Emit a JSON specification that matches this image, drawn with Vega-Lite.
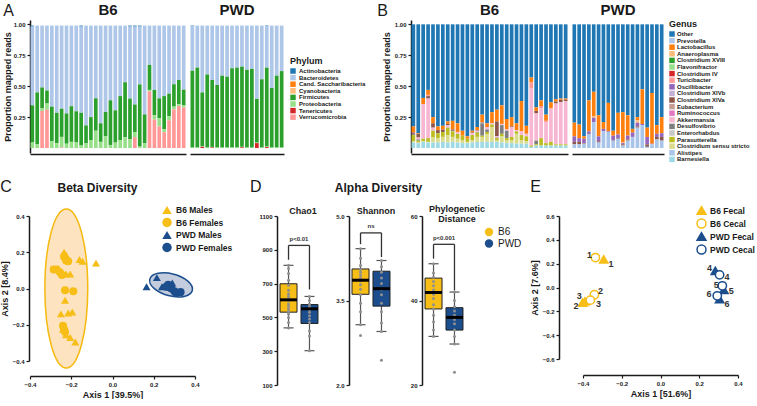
{
"$schema": "https://vega.github.io/schema/vega-lite/v6.json",
"background": "white",
"padding": {"left": 0, "top": 3, "right": 0, "bottom": 0},
"config": {
 "font": "Liberation Sans",
 "view": {"stroke": null},
 "axis": {"labelFontSize": 6, "labelFontWeight": "bold", "labelColor": "#1a1a1a", "labelOverlap": false, "labelFlush": false, "domainColor": "#1a1a1a", "domainWidth": 1.5, "tickColor": "#1a1a1a", "tickSize": 3, "tickWidth": 1.2, "grid": false, "titleFontSize": 9, "titleFontWeight": "bold", "titleColor": "#1a1a1a", "labelPadding": 2, "titlePadding": 3},
 "legend": {"titleColor": "#1a1a1a", "labelColor": "#1a1a1a", "labelFontWeight": "bold", "titleFontWeight": "bold"},
 "title": {"color": "#1a1a1a", "fontWeight": "bold"}
},
"datasets": {
 "phy": [
  {"st":"B6","s":1,"Actinobacteria":0.008,"Bacteroidetes":0.637,"Firmicutes":0.3,"Proteobacteria":0.045},
  {"st":"B6","s":2,"Bacteroidetes":0.54,"Firmicutes":0.42,"Proteobacteria":0.03},
  {"st":"B6","s":3,"Bacteroidetes":0.5,"Firmicutes":0.17,"Proteobacteria":0.02,"Verrucomicrobia":0.3},
  {"st":"B6","s":4,"Bacteroidetes":0.525,"Firmicutes":0.105,"Proteobacteria":0.05,"Verrucomicrobia":0.31},
  {"st":"B6","s":5,"Bacteroidetes":0.655,"Firmicutes":0.28,"Proteobacteria":0.055},
  {"st":"B6","s":6,"Bacteroidetes":0.705,"Firmicutes":0.245,"Proteobacteria":0.04},
  {"st":"B6","s":7,"Bacteroidetes":0.672,"Firmicutes":0.228,"Proteobacteria":0.085,"Verrucomicrobia":0.005},
  {"st":"B6","s":8,"Bacteroidetes":0.71,"Firmicutes":0.245,"Proteobacteria":0.035},
  {"st":"B6","s":9,"Bacteroidetes":0.652,"Firmicutes":0.288,"Proteobacteria":0.05},
  {"st":"B6","s":10,"Bacteroidetes":0.693,"Firmicutes":0.252,"Proteobacteria":0.045},
  {"st":"B6","s":11,"Actinobacteria":0.008,"Bacteroidetes":0.697,"Firmicutes":0.265,"Proteobacteria":0.02},
  {"st":"B6","s":12,"Bacteroidetes":0.807,"Firmicutes":0.145,"Proteobacteria":0.038},
  {"st":"B6","s":13,"Bacteroidetes":0.74,"Firmicutes":0.185,"Proteobacteria":0.065},
  {"st":"B6","s":14,"Bacteroidetes":0.588,"Firmicutes":0.262,"Proteobacteria":0.14},
  {"st":"B6","s":15,"Bacteroidetes":0.79,"Firmicutes":0.15,"Proteobacteria":0.05},
  {"st":"B6","s":16,"Bacteroidetes":0.698,"Firmicutes":0.197,"Proteobacteria":0.095},
  {"st":"B6","s":17,"Bacteroidetes":0.604,"Firmicutes":0.361,"Proteobacteria":0.025},
  {"st":"B6","s":18,"Bacteroidetes":0.685,"Firmicutes":0.261,"Proteobacteria":0.044},
  {"st":"B6","s":19,"Bacteroidetes":0.57,"Firmicutes":0.355,"Proteobacteria":0.065},
  {"st":"B6","s":20,"Bacteroidetes":0.458,"Firmicutes":0.444,"Proteobacteria":0.088},
  {"st":"B6","s":21,"Actinobacteria":0.008,"Bacteroidetes":0.582,"Firmicutes":0.33,"Proteobacteria":0.07},
  {"st":"B6","s":22,"Actinobacteria":0.008,"Bacteroidetes":0.63,"Firmicutes":0.222,"Proteobacteria":0.042,"Verrucomicrobia":0.088},
  {"st":"B6","s":23,"Actinobacteria":0.008,"Bacteroidetes":0.468,"Firmicutes":0.502,"Proteobacteria":0.012},
  {"st":"B6","s":24,"Bacteroidetes":0.718,"Firmicutes":0.234,"Proteobacteria":0.038},
  {"st":"B6","s":25,"Bacteroidetes":0.318,"Firmicutes":0.202,"Proteobacteria":0.012,"Verrucomicrobia":0.458},
  {"st":"B6","s":26,"Bacteroidetes":0.52,"Firmicutes":0.205,"Proteobacteria":0.035,"Verrucomicrobia":0.23},
  {"st":"B6","s":27,"Bacteroidetes":0.588,"Firmicutes":0.162,"Proteobacteria":0.065,"Verrucomicrobia":0.175},
  {"st":"B6","s":28,"Bacteroidetes":0.57,"Firmicutes":0.268,"Proteobacteria":0.024,"Verrucomicrobia":0.128},
  {"st":"B6","s":29,"Bacteroidetes":0.55,"Firmicutes":0.182,"Proteobacteria":0.033,"Verrucomicrobia":0.225},
  {"st":"B6","s":30,"Bacteroidetes":0.474,"Firmicutes":0.181,"Proteobacteria":0.023,"Verrucomicrobia":0.312},
  {"st":"B6","s":31,"Bacteroidetes":0.44,"Firmicutes":0.195,"Proteobacteria":0.015,"Verrucomicrobia":0.34},
  {"st":"B6","s":32,"Bacteroidetes":0.518,"Firmicutes":0.124,"Proteobacteria":0.02,"Verrucomicrobia":0.328},
  {"st":"PWD","s":1,"Actinobacteria":0.006,"Bacteroidetes":0.359,"Firmicutes":0.621,"Proteobacteria":0.004},
  {"st":"PWD","s":2,"Bacteroidetes":0.34,"Firmicutes":0.646,"Proteobacteria":0.004},
  {"st":"PWD","s":3,"Bacteroidetes":0.54,"Firmicutes":0.436,"Proteobacteria":0.004,"Tenericutes":0.01},
  {"st":"PWD","s":4,"Bacteroidetes":0.395,"Firmicutes":0.591,"Proteobacteria":0.004},
  {"st":"PWD","s":5,"Bacteroidetes":0.44,"Firmicutes":0.541,"Proteobacteria":0.004,"Tenericutes":0.005},
  {"st":"PWD","s":6,"Bacteroidetes":0.48,"Firmicutes":0.506,"Proteobacteria":0.004},
  {"st":"PWD","s":7,"Bacteroidetes":0.405,"Firmicutes":0.581,"Proteobacteria":0.004},
  {"st":"PWD","s":8,"Bacteroidetes":0.413,"Firmicutes":0.573,"Proteobacteria":0.004},
  {"st":"PWD","s":9,"Bacteroidetes":0.345,"Firmicutes":0.641,"Proteobacteria":0.004},
  {"st":"PWD","s":10,"Bacteroidetes":0.34,"Firmicutes":0.646,"Proteobacteria":0.004},
  {"st":"PWD","s":11,"Bacteroidetes":0.332,"Firmicutes":0.648,"Proteobacteria":0.004,"Tenericutes":0.006},
  {"st":"PWD","s":12,"Bacteroidetes":0.358,"Firmicutes":0.628,"Proteobacteria":0.004},
  {"st":"PWD","s":13,"Bacteroidetes":0.35,"Firmicutes":0.636,"Proteobacteria":0.004},
  {"st":"PWD","s":14,"Bacteroidetes":0.593,"Firmicutes":0.353,"Proteobacteria":0.004,"Tenericutes":0.04},
  {"st":"PWD","s":15,"Bacteroidetes":0.434,"Firmicutes":0.552,"Proteobacteria":0.004},
  {"st":"PWD","s":16,"Actinobacteria":0.006,"Bacteroidetes":0.334,"Firmicutes":0.638,"Proteobacteria":0.004,"Tenericutes":0.008},
  {"st":"PWD","s":17,"Bacteroidetes":0.504,"Firmicutes":0.482,"Proteobacteria":0.004},
  {"st":"PWD","s":18,"Bacteroidetes":0.405,"Firmicutes":0.581,"Proteobacteria":0.004},
  {"st":"PWD","s":19,"Bacteroidetes":0.368,"Firmicutes":0.618,"Proteobacteria":0.004}
 ],
 "gen": [
  {"st":"B6","s":1,"Other":0.825,"Lactobacillus":0.05,"Oscillibacter":0.005,"Clostridium XlVa":0.01,"Desulfovibrio":0.005,"Parasutterella":0.05,"Clostridium sensu stricto":0.01,"Barnesiella":0.045},
  {"st":"B6","s":2,"Other":0.88,"Lactobacillus":0.005,"Clostridium XlVa":0.03,"Akkermansia":0.015,"Desulfovibrio":0.01,"Parasutterella":0.015,"Clostridium sensu stricto":0.005,"Barnesiella":0.04},
  {"st":"B6","s":3,"Other":0.595,"Lactobacillus":0.05,"Akkermansia":0.28,"Parasutterella":0.02,"Clostridium sensu stricto":0.005,"Barnesiella":0.05},
  {"st":"B6","s":4,"Other":0.53,"Lactobacillus":0.04,"Turicibacter":0.01,"Clostridium XlVa":0.02,"Akkermansia":0.32,"Parasutterella":0.03,"Clostridium sensu stricto":0.005,"Barnesiella":0.045},
  {"st":"B6","s":5,"Other":0.75,"Lactobacillus":0.05,"Clostridium XlVa":0.035,"Akkermansia":0.025,"Parasutterella":0.055,"Clostridium sensu stricto":0.04,"Barnesiella":0.045},
  {"st":"B6","s":6,"Other":0.825,"Lactobacillus":0.03,"Clostridium XlVa":0.025,"Parasutterella":0.04,"Clostridium sensu stricto":0.035,"Barnesiella":0.045},
  {"st":"B6","s":7,"Other":0.82,"Lactobacillus":0.03,"Clostridium XlVa":0.02,"Parasutterella":0.04,"Clostridium sensu stricto":0.04,"Barnesiella":0.05},
  {"st":"B6","s":8,"Other":0.785,"Lactobacillus":0.02,"Clostridium XlVa":0.01,"Akkermansia":0.02,"Parasutterella":0.06,"Clostridium sensu stricto":0.06,"Barnesiella":0.045},
  {"st":"B6","s":9,"Other":0.78,"Lactobacillus":0.07,"Clostridium XlVa":0.01,"Desulfovibrio":0.005,"Parasutterella":0.045,"Clostridium sensu stricto":0.04,"Barnesiella":0.05},
  {"st":"B6","s":10,"Other":0.8,"Lactobacillus":0.07,"Turicibacter":0.005,"Akkermansia":0.01,"Parasutterella":0.04,"Clostridium sensu stricto":0.03,"Barnesiella":0.045},
  {"st":"B6","s":11,"Other":0.86,"Lactobacillus":0.04,"Parasutterella":0.04,"Clostridium sensu stricto":0.02,"Barnesiella":0.04},
  {"st":"B6","s":12,"Other":0.905,"Lactobacillus":0.02,"Parasutterella":0.025,"Clostridium sensu stricto":0.01,"Barnesiella":0.04},
  {"st":"B6","s":13,"Other":0.86,"Lactobacillus":0.015,"Clostridium XlVa":0.005,"Akkermansia":0.015,"Parasutterella":0.04,"Clostridium sensu stricto":0.02,"Barnesiella":0.045},
  {"st":"B6","s":14,"Other":0.83,"Lactobacillus":0.025,"Clostridium XlVa":0.005,"Akkermansia":0.01,"Desulfovibrio":0.005,"Parasutterella":0.035,"Clostridium sensu stricto":0.04,"Barnesiella":0.05},
  {"st":"B6","s":15,"Other":0.73,"Lactobacillus":0.06,"Clostridium XlVa":0.005,"Akkermansia":0.005,"Desulfovibrio":0.1,"Parasutterella":0.01,"Clostridium sensu stricto":0.04,"Barnesiella":0.05},
  {"st":"B6","s":16,"Other":0.8,"Lactobacillus":0.03,"Akkermansia":0.02,"Desulfovibrio":0.02,"Parasutterella":0.02,"Clostridium sensu stricto":0.06,"Barnesiella":0.05},
  {"st":"B6","s":17,"Other":0.71,"Lactobacillus":0.09,"Akkermansia":0.01,"Parasutterella":0.02,"Clostridium sensu stricto":0.12,"Barnesiella":0.05},
  {"st":"B6","s":18,"Other":0.69,"Lactobacillus":0.095,"Clostridium XlVa":0.12,"Akkermansia":0.01,"Desulfovibrio":0.005,"Parasutterella":0.02,"Clostridium sensu stricto":0.01,"Barnesiella":0.05},
  {"st":"B6","s":19,"Other":0.655,"Lactobacillus":0.15,"Akkermansia":0.01,"Desulfovibrio":0.07,"Parasutterella":0.02,"Clostridium sensu stricto":0.05,"Barnesiella":0.045},
  {"st":"B6","s":20,"Other":0.765,"Lactobacillus":0.085,"Akkermansia":0.01,"Desulfovibrio":0.06,"Parasutterella":0.02,"Clostridium sensu stricto":0.02,"Barnesiella":0.04},
  {"st":"B6","s":21,"Other":0.75,"Lactobacillus":0.075,"Clostridium XlVa":0.005,"Akkermansia":0.08,"Parasutterella":0.03,"Clostridium sensu stricto":0.02,"Barnesiella":0.04},
  {"st":"B6","s":22,"Other":0.8,"Lactobacillus":0.055,"Akkermansia":0.01,"Parasutterella":0.02,"Clostridium sensu stricto":0.08,"Barnesiella":0.035},
  {"st":"B6","s":23,"Other":0.62,"Lactobacillus":0.245,"Akkermansia":0.03,"Parasutterella":0.04,"Clostridium sensu stricto":0.03,"Barnesiella":0.035},
  {"st":"B6","s":24,"Other":0.82,"Lactobacillus":0.065,"Akkermansia":0.02,"Parasutterella":0.04,"Clostridium sensu stricto":0.02,"Barnesiella":0.035},
  {"st":"B6","s":25,"Other":0.43,"Lactobacillus":0.04,"Turicibacter":0.05,"Akkermansia":0.46,"Parasutterella":0.01,"Barnesiella":0.01},
  {"st":"B6","s":26,"Other":0.67,"Lactobacillus":0.03,"Clostridium XlVa":0.02,"Akkermansia":0.22,"Desulfovibrio":0.03,"Parasutterella":0.01,"Barnesiella":0.02},
  {"st":"B6","s":27,"Other":0.615,"Lactobacillus":0.045,"Turicibacter":0.02,"Akkermansia":0.24,"Parasutterella":0.06,"Barnesiella":0.02},
  {"st":"B6","s":28,"Other":0.73,"Lactobacillus":0.05,"Turicibacter":0.01,"Akkermansia":0.17,"Parasutterella":0.02,"Barnesiella":0.02},
  {"st":"B6","s":29,"Other":0.63,"Lactobacillus":0.05,"Akkermansia":0.27,"Parasutterella":0.03,"Barnesiella":0.02},
  {"st":"B6","s":30,"Other":0.605,"Lactobacillus":0.02,"Clostridium XlVa":0.015,"Akkermansia":0.33,"Parasutterella":0.01,"Barnesiella":0.02},
  {"st":"B6","s":31,"Other":0.6,"Lactobacillus":0.01,"Clostridium XlVa":0.02,"Akkermansia":0.34,"Parasutterella":0.01,"Barnesiella":0.02},
  {"st":"B6","s":32,"Other":0.6,"Lactobacillus":0.01,"Clostridium XlVa":0.01,"Akkermansia":0.35,"Parasutterella":0.01,"Barnesiella":0.02},
  {"st":"PWD","s":1,"Other":0.795,"Lactobacillus":0.11,"Oscillibacter":0.045,"Clostridium XlVa":0.02,"Alistipes":0.03},
  {"st":"PWD","s":2,"Other":0.81,"Lactobacillus":0.11,"Oscillibacter":0.03,"Clostridium XlVa":0.02,"Alistipes":0.03},
  {"st":"PWD","s":3,"Other":0.905,"Lactobacillus":0.02,"Oscillibacter":0.035,"Clostridium XlVa":0.005,"Alistipes":0.035},
  {"st":"PWD","s":4,"Other":0.615,"Lactobacillus":0.25,"Oscillibacter":0.02,"Clostridium XlVa":0.005,"Alistipes":0.11},
  {"st":"PWD","s":5,"Other":0.545,"Lactobacillus":0.2,"Anaeroplasma":0.01,"Oscillibacter":0.035,"Alistipes":0.21},
  {"st":"PWD","s":6,"Other":0.735,"Lactobacillus":0.17,"Oscillibacter":0.04,"Clostridium XlVa":0.01,"Alistipes":0.045},
  {"st":"PWD","s":7,"Other":0.79,"Lactobacillus":0.055,"Oscillibacter":0.02,"Alistipes":0.135},
  {"st":"PWD","s":8,"Other":0.635,"Lactobacillus":0.23,"Oscillibacter":0.005,"Alistipes":0.13},
  {"st":"PWD","s":9,"Other":0.86,"Lactobacillus":0.04,"Oscillibacter":0.035,"Clostridium XlVa":0.005,"Alistipes":0.06},
  {"st":"PWD","s":10,"Other":0.715,"Lactobacillus":0.175,"Oscillibacter":0.03,"Clostridium XlVa":0.005,"Alistipes":0.075},
  {"st":"PWD","s":11,"Other":0.71,"Lactobacillus":0.245,"Anaeroplasma":0.005,"Oscillibacter":0.01,"Clostridium XlVa":0.01,"Alistipes":0.02},
  {"st":"PWD","s":12,"Other":0.735,"Lactobacillus":0.165,"Oscillibacter":0.03,"Clostridium XlVa":0.01,"Alistipes":0.06},
  {"st":"PWD","s":13,"Other":0.845,"Lactobacillus":0.03,"Oscillibacter":0.035,"Alistipes":0.09},
  {"st":"PWD","s":14,"Other":0.75,"Lactobacillus":0.025,"Anaeroplasma":0.02,"Oscillibacter":0.03,"Clostridium XlVa":0.01,"Alistipes":0.165},
  {"st":"PWD","s":15,"Other":0.525,"Lactobacillus":0.28,"Oscillibacter":0.01,"Alistipes":0.185},
  {"st":"PWD","s":16,"Other":0.835,"Lactobacillus":0.075,"Oscillibacter":0.06,"Clostridium XlVa":0.02,"Alistipes":0.01},
  {"st":"PWD","s":17,"Other":0.555,"Lactobacillus":0.41,"Oscillibacter":0.005,"Alistipes":0.03},
  {"st":"PWD","s":18,"Other":0.815,"Lactobacillus":0.07,"Oscillibacter":0.025,"Clostridium XlVa":0.02,"Alistipes":0.07},
  {"st":"PWD","s":19,"Other":0.75,"Lactobacillus":0.13,"Oscillibacter":0.03,"Clostridium XlVa":0.03,"Alistipes":0.06}
 ],
 "grank": [
  {"Genus":"Other","gi":0},{"Genus":"Prevotella","gi":1},{"Genus":"Lactobacillus","gi":2},{"Genus":"Anaeroplasma","gi":3},{"Genus":"Clostridium XVIII","gi":4},{"Genus":"Flavonifractor","gi":5},{"Genus":"Clostridium IV","gi":6},{"Genus":"Turicibacter","gi":7},{"Genus":"Oscillibacter","gi":8},{"Genus":"Clostridium XlVb","gi":9},{"Genus":"Clostridium XlVa","gi":10},{"Genus":"Eubacterium","gi":11},{"Genus":"Ruminococcus","gi":12},{"Genus":"Akkermansia","gi":13},{"Genus":"Desulfovibrio","gi":14},{"Genus":"Enterorhabdus","gi":15},{"Genus":"Parasutterella","gi":16},{"Genus":"Clostridium sensu stricto","gi":17},{"Genus":"Alistipes","gi":18},{"Genus":"Barnesiella","gi":19}
 ],
 "ell": [{"g":"B6","a1":-0.224,"a2":0.0},{"g":"PWD","a1":0.284,"a2":0.02}],
 "beta": [
  {"grp":"B6 Males","a1":-0.235,"a2":0.2},{"grp":"B6 Males","a1":-0.225,"a2":0.185},{"grp":"B6 Males","a1":-0.16,"a2":0.16},{"grp":"B6 Males","a1":-0.145,"a2":0.15},{"grp":"B6 Males","a1":-0.08,"a2":0.14},{"grp":"B6 Males","a1":-0.225,"a2":0.08},{"grp":"B6 Males","a1":-0.205,"a2":0.08},{"grp":"B6 Males","a1":-0.23,"a2":-0.065},{"grp":"B6 Males","a1":-0.25,"a2":-0.14},{"grp":"B6 Males","a1":-0.215,"a2":-0.135},{"grp":"B6 Males","a1":-0.195,"a2":-0.13},{"grp":"B6 Males","a1":-0.24,"a2":-0.225},{"grp":"B6 Males","a1":-0.225,"a2":-0.255},{"grp":"B6 Males","a1":-0.205,"a2":-0.27},{"grp":"B6 Males","a1":-0.18,"a2":-0.295},
  {"grp":"B6 Females","a1":-0.235,"a2":0.175},{"grp":"B6 Females","a1":-0.225,"a2":0.155},{"grp":"B6 Females","a1":-0.215,"a2":0.15},{"grp":"B6 Females","a1":-0.285,"a2":0.105},{"grp":"B6 Females","a1":-0.27,"a2":0.105},{"grp":"B6 Females","a1":-0.255,"a2":0.09},{"grp":"B6 Females","a1":-0.245,"a2":0.075},{"grp":"B6 Females","a1":-0.23,"a2":-0.01},{"grp":"B6 Females","a1":-0.19,"a2":-0.015},{"grp":"B6 Females","a1":-0.24,"a2":-0.205},{"grp":"B6 Females","a1":-0.235,"a2":-0.225},{"grp":"B6 Females","a1":-0.23,"a2":-0.24},
  {"grp":"PWD Males","a1":0.165,"a2":0.01},{"grp":"PWD Males","a1":0.215,"a2":0.06},{"grp":"PWD Males","a1":0.24,"a2":0.01},{"grp":"PWD Males","a1":0.28,"a2":0.005},{"grp":"PWD Males","a1":0.31,"a2":-0.02},{"grp":"PWD Males","a1":0.29,"a2":0.03},
  {"grp":"PWD Females","a1":0.27,"a2":0.02},{"grp":"PWD Females","a1":0.285,"a2":0.0},{"grp":"PWD Females","a1":0.3,"a2":-0.015},{"grp":"PWD Females","a1":0.31,"a2":-0.025},{"grp":"PWD Females","a1":0.26,"a2":0.01},{"grp":"PWD Females","a1":0.33,"a2":-0.02}
 ],
 "box": [
  {"m":"Chao1","st":"B6","lo":438,"q1":531,"med":604,"q3":699,"hi":808},
  {"m":"Chao1","st":"PWD","lo":303,"q1":464,"med":551,"q3":576,"hi":624},
  {"m":"Shannon","st":"B6","lo":3.07,"q1":3.61,"med":3.86,"q3":4.06,"hi":4.42},
  {"m":"Shannon","st":"PWD","lo":2.95,"q1":3.4,"med":3.71,"q3":4.02,"hi":4.21},
  {"m":"PD","st":"B6","lo":31.5,"q1":38.0,"med":41.9,"q3":45.3,"hi":48.7},
  {"m":"PD","st":"PWD","lo":29.7,"q1":33.0,"med":36.0,"q3":38.3,"hi":42.0}
 ],
 "pts": [
  {"m":"Chao1","st":"B6","v":438},{"m":"Chao1","st":"B6","v":470},{"m":"Chao1","st":"B6","v":500},{"m":"Chao1","st":"B6","v":520},{"m":"Chao1","st":"B6","v":535},{"m":"Chao1","st":"B6","v":550},{"m":"Chao1","st":"B6","v":565},{"m":"Chao1","st":"B6","v":580},{"m":"Chao1","st":"B6","v":600},{"m":"Chao1","st":"B6","v":612},{"m":"Chao1","st":"B6","v":625},{"m":"Chao1","st":"B6","v":640},{"m":"Chao1","st":"B6","v":660},{"m":"Chao1","st":"B6","v":690},{"m":"Chao1","st":"B6","v":720},{"m":"Chao1","st":"B6","v":760},{"m":"Chao1","st":"B6","v":790},{"m":"Chao1","st":"B6","v":808},
  {"m":"Chao1","st":"PWD","v":303},{"m":"Chao1","st":"PWD","v":390},{"m":"Chao1","st":"PWD","v":420},{"m":"Chao1","st":"PWD","v":470},{"m":"Chao1","st":"PWD","v":490},{"m":"Chao1","st":"PWD","v":510},{"m":"Chao1","st":"PWD","v":530},{"m":"Chao1","st":"PWD","v":545},{"m":"Chao1","st":"PWD","v":555},{"m":"Chao1","st":"PWD","v":565},{"m":"Chao1","st":"PWD","v":580},{"m":"Chao1","st":"PWD","v":600},{"m":"Chao1","st":"PWD","v":624},
  {"m":"Shannon","st":"B6","v":2.88},{"m":"Shannon","st":"B6","v":3.07},{"m":"Shannon","st":"B6","v":3.3},{"m":"Shannon","st":"B6","v":3.45},{"m":"Shannon","st":"B6","v":3.6},{"m":"Shannon","st":"B6","v":3.7},{"m":"Shannon","st":"B6","v":3.78},{"m":"Shannon","st":"B6","v":3.85},{"m":"Shannon","st":"B6","v":3.9},{"m":"Shannon","st":"B6","v":3.95},{"m":"Shannon","st":"B6","v":4.0},{"m":"Shannon","st":"B6","v":4.05},{"m":"Shannon","st":"B6","v":4.12},{"m":"Shannon","st":"B6","v":4.25},{"m":"Shannon","st":"B6","v":4.42},
  {"m":"Shannon","st":"PWD","v":2.44},{"m":"Shannon","st":"PWD","v":2.95},{"m":"Shannon","st":"PWD","v":3.1},{"m":"Shannon","st":"PWD","v":3.3},{"m":"Shannon","st":"PWD","v":3.45},{"m":"Shannon","st":"PWD","v":3.6},{"m":"Shannon","st":"PWD","v":3.7},{"m":"Shannon","st":"PWD","v":3.8},{"m":"Shannon","st":"PWD","v":3.9},{"m":"Shannon","st":"PWD","v":4.0},{"m":"Shannon","st":"PWD","v":4.1},{"m":"Shannon","st":"PWD","v":4.21},
  {"m":"PD","st":"B6","v":31.5},{"m":"PD","st":"B6","v":33},{"m":"PD","st":"B6","v":35},{"m":"PD","st":"B6","v":36.5},{"m":"PD","st":"B6","v":38},{"m":"PD","st":"B6","v":39},{"m":"PD","st":"B6","v":40.5},{"m":"PD","st":"B6","v":41.5},{"m":"PD","st":"B6","v":42.5},{"m":"PD","st":"B6","v":43.5},{"m":"PD","st":"B6","v":44.5},{"m":"PD","st":"B6","v":45.5},{"m":"PD","st":"B6","v":46.5},{"m":"PD","st":"B6","v":48.7},
  {"m":"PD","st":"PWD","v":23.0},{"m":"PD","st":"PWD","v":29.7},{"m":"PD","st":"PWD","v":31.5},{"m":"PD","st":"PWD","v":33.0},{"m":"PD","st":"PWD","v":34.5},{"m":"PD","st":"PWD","v":35.5},{"m":"PD","st":"PWD","v":36.5},{"m":"PD","st":"PWD","v":37.5},{"m":"PD","st":"PWD","v":38.5},{"m":"PD","st":"PWD","v":40},{"m":"PD","st":"PWD","v":42.0}
 ],
 "brk": [
  {"m":"Chao1","top":926,"yl":841,"yr":665,"ty":962,"lab":"p<0.01"},
  {"m":"Shannon","top":4.7,"yl":4.5,"yr":4.27,"ty":4.82,"lab":"ns"},
  {"m":"PD","top":53.3,"yl":49.9,"yr":42.4,"ty":54.9,"lab":"p<0.001"}
 ],
 "pc": [
  {"grp":"B6 Fecal","a1":-0.293,"a2":0.237},{"grp":"B6 Fecal","a1":-0.402,"a2":-0.126},{"grp":"B6 Fecal","a1":-0.39,"a2":-0.117},
  {"grp":"B6 Cecal","a1":-0.336,"a2":0.251},{"grp":"B6 Cecal","a1":-0.341,"a2":-0.061},{"grp":"B6 Cecal","a1":-0.362,"a2":-0.106},
  {"grp":"PWD Fecal","a1":0.283,"a2":0.14},{"grp":"PWD Fecal","a1":0.327,"a2":-0.02},{"grp":"PWD Fecal","a1":0.305,"a2":-0.098},
  {"grp":"PWD Cecal","a1":0.305,"a2":0.106},{"grp":"PWD Cecal","a1":0.319,"a2":0.014},{"grp":"PWD Cecal","a1":0.293,"a2":-0.07}
 ],
 "lab": [
  {"n":"1","a1":-0.367,"a2":0.27},{"n":"1","a1":-0.255,"a2":0.2},{"n":"2","a1":-0.31,"a2":-0.028},{"n":"3","a1":-0.32,"a2":-0.14},{"n":"3","a1":-0.419,"a2":-0.07},{"n":"2","a1":-0.436,"a2":-0.153},
  {"n":"4","a1":0.253,"a2":0.167},{"n":"4","a1":0.343,"a2":0.09},{"n":"5","a1":0.288,"a2":0.023},{"n":"5","a1":0.365,"a2":-0.028},{"n":"6","a1":0.25,"a2":-0.056},{"n":"6","a1":0.343,"a2":-0.14}
 ]
},
"spacing": 16,
"resolve": {"scale": {"color": "independent", "shape": "independent", "fill": "independent", "stroke": "independent"}},
"vconcat": [
 {
  "spacing": 11,
  "resolve": {"scale": {"color": "independent"}},
  "hconcat": [
   {
    "title": {"text": "A", "anchor": "start", "frame": "bounds", "fontSize": 16, "fontWeight": "normal", "offset": -16},
    "spacing": 4,
    "resolve": {"scale": {"color": "independent"}},
    "hconcat": [
     {
      "title": {"text": "B6", "fontSize": 15, "offset": 2},
      "width": 156, "height": 133,
      "data": {"name": "phy"},
      "transform": [{"filter": "datum.st === 'B6'"}, {"fold": ["Actinobacteria","Bacteroidetes","Firmicutes","Proteobacteria","Tenericutes","Verrucomicrobia"], "as": ["Phylum", "p"]}, {"filter": "isValid(datum.p)"}],
      "mark": {"type": "bar"},
      "encoding": {
       "x": {"field": "s", "type": "ordinal", "scale": {"paddingInner": 0.25, "paddingOuter": 0.1}, "axis": {"labels": false, "ticks": false, "title": null, "offset": 1}},
       "y": {"field": "p", "type": "quantitative", "scale": {"domain": [-0.04, 1.035], "nice": false, "zero": false}, "axis": {"values": [0.25, 0.5, 0.75, 1], "tickCount": 10, "format": ".2f", "title": "Proportion mapped reads", "titlePadding": 1}},
       "color": {"field": "Phylum", "type": "nominal", "scale": {"domain": ["Actinobacteria","Bacteroidetes","Cand. Saccharibacteria","Cyanobacteria","Firmicutes","Proteobacteria","Tenericutes","Verrucomicrobia"], "range": ["#1f77b4","#aec7e8","#ff7f0e","#ffbb78","#2ca02c","#98df8a","#d62728","#ff9896"]}, "legend": null}
      }
     },
     {
      "title": {"text": "PWD", "fontSize": 15, "offset": 2},
      "width": 94, "height": 133,
      "data": {"name": "phy"},
      "transform": [{"filter": "datum.st === 'PWD'"}, {"fold": ["Actinobacteria","Bacteroidetes","Firmicutes","Proteobacteria","Tenericutes","Verrucomicrobia"], "as": ["Phylum", "p"]}, {"filter": "isValid(datum.p)"}],
      "mark": {"type": "bar"},
      "encoding": {
       "x": {"field": "s", "type": "ordinal", "scale": {"paddingInner": 0.25, "paddingOuter": 0.1}, "axis": {"labels": false, "ticks": false, "title": null, "offset": 1}},
       "y": {"field": "p", "type": "quantitative", "scale": {"domain": [-0.04, 1.035], "nice": false, "zero": false}, "axis": null},
       "color": {"field": "Phylum", "type": "nominal", "scale": {"domain": ["Actinobacteria","Bacteroidetes","Cand. Saccharibacteria","Cyanobacteria","Firmicutes","Proteobacteria","Tenericutes","Verrucomicrobia"], "range": ["#1f77b4","#aec7e8","#ff7f0e","#ffbb78","#2ca02c","#98df8a","#d62728","#ff9896"]},
        "legend": {"orient": "none", "legendX": 100, "legendY": 37, "title": "Phylum", "titleFontSize": 9, "titleAnchor": "start", "titlePadding": 2, "symbolType": "square", "symbolSize": 30, "symbolStrokeWidth": 0, "labelFontSize": 6, "rowPadding": 0.6, "labelOffset": 3}}
      }
     }
    ]
   },
   {
    "title": {"text": "B", "anchor": "start", "frame": "bounds", "fontSize": 16, "fontWeight": "normal", "offset": -16, "dx": -5},
    "spacing": 4,
    "resolve": {"scale": {"color": "independent"}},
    "hconcat": [
     {
      "title": {"text": "B6", "fontSize": 15, "offset": 2},
      "width": 157, "height": 133,
      "data": {"name": "gen"},
      "transform": [{"filter": "datum.st === 'B6'"}, {"fold": ["Other","Lactobacillus","Anaeroplasma","Turicibacter","Oscillibacter","Clostridium XlVa","Akkermansia","Desulfovibrio","Parasutterella","Clostridium sensu stricto","Alistipes","Barnesiella"], "as": ["Genus", "p"]}, {"filter": "isValid(datum.p)"}, {"lookup": "Genus", "from": {"data": {"name": "grank"}, "key": "Genus", "fields": ["gi"]}}],
      "mark": {"type": "bar"},
      "encoding": {
       "x": {"field": "s", "type": "ordinal", "scale": {"paddingInner": 0.25, "paddingOuter": 0.1}, "axis": {"labels": false, "ticks": false, "title": null, "offset": 1}},
       "y": {"field": "p", "type": "quantitative", "scale": {"domain": [-0.04, 1.035], "nice": false, "zero": false}, "axis": {"values": [0.25, 0.5, 0.75, 1], "tickCount": 10, "format": ".2f", "title": "Proportion mapped reads", "titlePadding": 3}},
       "order": {"field": "gi", "type": "quantitative", "sort": "descending"},
       "color": {"field": "Genus", "type": "nominal", "scale": {"domain": ["Other","Prevotella","Lactobacillus","Anaeroplasma","Clostridium XVIII","Flavonifractor","Clostridium IV","Turicibacter","Oscillibacter","Clostridium XlVb","Clostridium XlVa","Eubacterium","Ruminococcus","Akkermansia","Desulfovibrio","Enterorhabdus","Parasutterella","Clostridium sensu stricto","Alistipes","Barnesiella"], "range": ["#1f77b4","#aec7e8","#ff7f0e","#ffbb78","#2ca02c","#98df8a","#d62728","#ff9896","#9467bd","#c5b0d5","#8c564b","#c49c94","#e377c2","#f7b6d2","#7f7f7f","#c7c7c7","#bcbd22","#dbdb8d","#a9c5ea","#9edae5"]}, "legend": null}
      }
     },
     {
      "title": {"text": "PWD", "fontSize": 15, "offset": 2},
      "width": 92, "height": 133,
      "data": {"name": "gen"},
      "transform": [{"filter": "datum.st === 'PWD'"}, {"fold": ["Other","Lactobacillus","Anaeroplasma","Turicibacter","Oscillibacter","Clostridium XlVa","Akkermansia","Desulfovibrio","Parasutterella","Clostridium sensu stricto","Alistipes","Barnesiella"], "as": ["Genus", "p"]}, {"filter": "isValid(datum.p)"}, {"lookup": "Genus", "from": {"data": {"name": "grank"}, "key": "Genus", "fields": ["gi"]}}],
      "mark": {"type": "bar"},
      "encoding": {
       "x": {"field": "s", "type": "ordinal", "scale": {"paddingInner": 0.25, "paddingOuter": 0.1}, "axis": {"labels": false, "ticks": false, "title": null, "offset": 1}},
       "y": {"field": "p", "type": "quantitative", "scale": {"domain": [-0.04, 1.035], "nice": false, "zero": false}, "axis": null},
       "order": {"field": "gi", "type": "quantitative", "sort": "descending"},
       "color": {"field": "Genus", "type": "nominal", "scale": {"domain": ["Other","Prevotella","Lactobacillus","Anaeroplasma","Clostridium XVIII","Flavonifractor","Clostridium IV","Turicibacter","Oscillibacter","Clostridium XlVb","Clostridium XlVa","Eubacterium","Ruminococcus","Akkermansia","Desulfovibrio","Enterorhabdus","Parasutterella","Clostridium sensu stricto","Alistipes","Barnesiella"], "range": ["#1f77b4","#aec7e8","#ff7f0e","#ffbb78","#2ca02c","#98df8a","#d62728","#ff9896","#9467bd","#c5b0d5","#8c564b","#c49c94","#e377c2","#f7b6d2","#7f7f7f","#c7c7c7","#bcbd22","#dbdb8d","#a9c5ea","#9edae5"]},
        "legend": {"orient": "none", "legendX": 97, "legendY": 0, "title": "Genus", "titleFontSize": 9, "titleAnchor": "start", "titlePadding": 2, "symbolType": "square", "symbolSize": 30, "symbolStrokeWidth": 0, "labelFontSize": 6, "rowPadding": 0.6, "labelOffset": 2}}
      }
     }
    ]
   }
  ]
 },
 {
  "spacing": 16,
  "resolve": {"scale": {"color": "independent", "shape": "independent", "fill": "independent", "stroke": "independent"}},
  "hconcat": [
   {
    "title": {"text": "C", "anchor": "start", "frame": "bounds", "fontSize": 16, "fontWeight": "normal", "offset": -13},
    "hconcat": [
     {
      "title": {"text": "Beta Diversity", "fontSize": 12, "offset": 11, "dx": -15},
      "width": 165, "height": 145,
      "layer": [
       {"data": {"name": "ell"}, "transform": [{"filter": "datum.g === 'B6'"}],
        "mark": {"type": "point", "shape": "M0,-1A0.27,1,0,1,1,0,1A0.27,1,0,1,1,0,-1Z", "size": 25281, "filled": true, "fill": "#fde3c0", "stroke": "#f6b90f", "strokeWidth": 1.5, "opacity": 1},
        "encoding": {
         "x": {"field": "a1", "type": "quantitative", "scale": {"domain": [-0.4, 0.4], "nice": false}, "axis": {"values": [-0.4, -0.2, 0, 0.2, 0.4], "tickCount": 10, "format": ".1f", "title": "Axis 1 [39.5%]", "offset": 15}},
         "y": {"field": "a2", "type": "quantitative", "scale": {"domain": [-0.4, 0.4], "nice": false}, "axis": {"values": [-0.4, -0.2, 0, 0.2, 0.4], "tickCount": 10, "format": ".1f", "title": "Axis 2 [8.4%]", "offset": 1}}
        }},
       {"data": {"name": "ell"}, "transform": [{"filter": "datum.g === 'PWD'"}],
        "mark": {"type": "point", "shape": "M-1,0A1,0.5,0,1,1,1,0A1,0.5,0,1,1,-1,0Z", "size": 1936, "angle": 15, "filled": true, "fill": "#c4cddd", "stroke": "#1c4e8d", "strokeWidth": 1.5, "opacity": 1},
        "encoding": {"x": {"field": "a1", "type": "quantitative"}, "y": {"field": "a2", "type": "quantitative"}}},
       {"data": {"name": "beta"},
        "mark": {"type": "point", "filled": true, "size": 65, "opacity": 1},
        "encoding": {
         "x": {"field": "a1", "type": "quantitative"},
         "y": {"field": "a2", "type": "quantitative"},
         "shape": {"field": "grp", "type": "nominal", "scale": {"domain": ["B6 Males","B6 Females","PWD Males","PWD Females"], "range": ["triangle-up","circle","triangle-up","circle"]},
          "legend": {"orient": "none", "legendX": 132, "legendY": -11, "title": null, "symbolSize": 90, "labelFontSize": 8.5, "rowPadding": 2.5, "labelOffset": 4, "symbolStrokeWidth": 0}},
         "color": {"field": "grp", "type": "nominal", "scale": {"domain": ["B6 Males","B6 Females","PWD Males","PWD Females"], "range": ["#f6be17","#f6be17","#1c4e8d","#1c4e8d"]},
          "legend": {"orient": "none", "legendX": 132, "legendY": -11, "title": null, "symbolSize": 90, "labelFontSize": 8.5, "rowPadding": 2.5, "labelOffset": 4, "symbolStrokeWidth": 0}}
        }}
      ]
     }
    ]
   },
   {
    "spacing": 8,
    "resolve": {"scale": {"color": "independent", "shape": "independent", "fill": "independent", "stroke": "independent"}},
    "hconcat": [
     {
      "title": {"text": "D", "anchor": "start", "frame": "bounds", "fontSize": 16, "fontWeight": "normal", "offset": -13, "dx": -9},
      "hconcat": [
       {
        "title": {"text": "Alpha Diversity", "anchor": "middle", "fontSize": 12, "offset": 10, "dx": -12},
        "spacing": 14,
        "resolve": {"scale": {"color": "independent"}},
        "hconcat": [
         {
          "title": {"text": "Chao1", "fontSize": 9, "offset": -3, "frame": "group", "dx": 4},
          "width": 44, "height": 169,
          "layer": [
           {"data": {"name": "box"}, "transform": [{"filter": "datum.m === 'Chao1'"}], "mark": {"type": "rule", "color": "#555", "strokeWidth": 1.2},
            "encoding": {"x": {"field": "st", "type": "nominal", "scale": {"type": "point", "domain": ["B6","PWD"], "padding": 0.55}, "axis": null},
             "y": {"field": "lo", "type": "quantitative", "title": null, "scale": {"domain": [100, 1100], "nice": false, "zero": false}, "axis": {"values": [100, 300, 500, 700, 900, 1100], "tickCount": 10, "format": "d", "title": null}}, "y2": {"field": "hi"}}},
           {"data": {"name": "box"}, "transform": [{"filter": "datum.m === 'Chao1'"}], "mark": {"type": "tick", "color": "#555", "thickness": 1.2, "size": 10, "opacity": 1},
            "encoding": {"x": {"field": "st", "type": "nominal", "axis": null}, "y": {"field": "hi", "type": "quantitative", "title": null}}},
           {"data": {"name": "box"}, "transform": [{"filter": "datum.m === 'Chao1'"}], "mark": {"type": "tick", "color": "#555", "thickness": 1.2, "size": 10, "opacity": 1},
            "encoding": {"x": {"field": "st", "type": "nominal", "axis": null}, "y": {"field": "lo", "type": "quantitative", "title": null}}},
           {"data": {"name": "box"}, "transform": [{"filter": "datum.m === 'Chao1'"}], "mark": {"type": "bar", "size": 17, "stroke": "#222", "strokeWidth": 1, "opacity": 1},
            "encoding": {"x": {"field": "st", "type": "nominal", "axis": null}, "y": {"field": "q1", "type": "quantitative", "title": null}, "y2": {"field": "q3"},
             "color": {"field": "st", "type": "nominal", "scale": {"domain": ["B6","PWD"], "range": ["#f6be17","#1c4e8d"]}, "legend": null}}},
           {"data": {"name": "pts"}, "transform": [{"filter": "datum.m === 'Chao1'"}], "mark": {"type": "circle", "size": 9, "color": "#8f8f8f", "opacity": 1},
            "encoding": {"x": {"field": "st", "type": "nominal", "axis": null}, "y": {"field": "v", "type": "quantitative", "title": null}}},
           {"data": {"name": "box"}, "transform": [{"filter": "datum.m === 'Chao1'"}], "mark": {"type": "tick", "color": "#000", "thickness": 3, "size": 17, "opacity": 1},
            "encoding": {"x": {"field": "st", "type": "nominal", "axis": null}, "y": {"field": "med", "type": "quantitative", "title": null}}},
           {"data": {"name": "brk"}, "transform": [{"filter": "datum.m === 'Chao1'"}], "mark": {"type": "rule", "color": "#333", "strokeWidth": 1.3},
            "encoding": {"x": {"datum": "B6", "type": "nominal", "axis": null}, "x2": {"datum": "PWD"}, "y": {"field": "top", "type": "quantitative", "title": null}}},
           {"data": {"name": "brk"}, "transform": [{"filter": "datum.m === 'Chao1'"}], "mark": {"type": "rule", "color": "#333", "strokeWidth": 1.3},
            "encoding": {"x": {"datum": "B6", "type": "nominal", "axis": null}, "y": {"field": "top", "type": "quantitative", "title": null}, "y2": {"field": "yl"}}},
           {"data": {"name": "brk"}, "transform": [{"filter": "datum.m === 'Chao1'"}], "mark": {"type": "rule", "color": "#333", "strokeWidth": 1.3},
            "encoding": {"x": {"datum": "PWD", "type": "nominal", "axis": null}, "y": {"field": "top", "type": "quantitative", "title": null}, "y2": {"field": "yr"}}},
           {"data": {"name": "brk"}, "transform": [{"filter": "datum.m === 'Chao1'"}], "mark": {"type": "text", "dx": 10.5, "fontSize": 6, "fontWeight": "bold", "color": "#333", "baseline": "middle"},
            "encoding": {"x": {"datum": "B6", "type": "nominal", "axis": null}, "y": {"field": "ty", "type": "quantitative", "title": null}, "text": {"field": "lab"}}}
          ]
         },
         {
          "title": {"text": "Shannon", "fontSize": 9, "offset": -3, "frame": "group", "dx": 5},
          "width": 44, "height": 169,
          "layer": [
           {"data": {"name": "box"}, "transform": [{"filter": "datum.m === 'Shannon'"}], "mark": {"type": "rule", "color": "#555", "strokeWidth": 1.2},
            "encoding": {"x": {"field": "st", "type": "nominal", "scale": {"type": "point", "domain": ["B6","PWD"], "padding": 0.55}, "axis": null},
             "y": {"field": "lo", "type": "quantitative", "title": null, "scale": {"domain": [2, 5], "nice": false, "zero": false}, "axis": {"values": [2, 3.5, 5], "tickCount": 10, "format": ".1f", "title": null}}, "y2": {"field": "hi"}}},
           {"data": {"name": "box"}, "transform": [{"filter": "datum.m === 'Shannon'"}], "mark": {"type": "tick", "color": "#555", "thickness": 1.2, "size": 10, "opacity": 1},
            "encoding": {"x": {"field": "st", "type": "nominal", "axis": null}, "y": {"field": "hi", "type": "quantitative", "title": null}}},
           {"data": {"name": "box"}, "transform": [{"filter": "datum.m === 'Shannon'"}], "mark": {"type": "tick", "color": "#555", "thickness": 1.2, "size": 10, "opacity": 1},
            "encoding": {"x": {"field": "st", "type": "nominal", "axis": null}, "y": {"field": "lo", "type": "quantitative", "title": null}}},
           {"data": {"name": "box"}, "transform": [{"filter": "datum.m === 'Shannon'"}], "mark": {"type": "bar", "size": 17, "stroke": "#222", "strokeWidth": 1, "opacity": 1},
            "encoding": {"x": {"field": "st", "type": "nominal", "axis": null}, "y": {"field": "q1", "type": "quantitative", "title": null}, "y2": {"field": "q3"},
             "color": {"field": "st", "type": "nominal", "scale": {"domain": ["B6","PWD"], "range": ["#f6be17","#1c4e8d"]}, "legend": null}}},
           {"data": {"name": "pts"}, "transform": [{"filter": "datum.m === 'Shannon'"}], "mark": {"type": "circle", "size": 9, "color": "#8f8f8f", "opacity": 1},
            "encoding": {"x": {"field": "st", "type": "nominal", "axis": null}, "y": {"field": "v", "type": "quantitative", "title": null}}},
           {"data": {"name": "box"}, "transform": [{"filter": "datum.m === 'Shannon'"}], "mark": {"type": "tick", "color": "#000", "thickness": 3, "size": 17, "opacity": 1},
            "encoding": {"x": {"field": "st", "type": "nominal", "axis": null}, "y": {"field": "med", "type": "quantitative", "title": null}}},
           {"data": {"name": "brk"}, "transform": [{"filter": "datum.m === 'Shannon'"}], "mark": {"type": "rule", "color": "#333", "strokeWidth": 1.3},
            "encoding": {"x": {"datum": "B6", "type": "nominal", "axis": null}, "x2": {"datum": "PWD"}, "y": {"field": "top", "type": "quantitative", "title": null}}},
           {"data": {"name": "brk"}, "transform": [{"filter": "datum.m === 'Shannon'"}], "mark": {"type": "rule", "color": "#333", "strokeWidth": 1.3},
            "encoding": {"x": {"datum": "B6", "type": "nominal", "axis": null}, "y": {"field": "top", "type": "quantitative", "title": null}, "y2": {"field": "yl"}}},
           {"data": {"name": "brk"}, "transform": [{"filter": "datum.m === 'Shannon'"}], "mark": {"type": "rule", "color": "#333", "strokeWidth": 1.3},
            "encoding": {"x": {"datum": "PWD", "type": "nominal", "axis": null}, "y": {"field": "top", "type": "quantitative", "title": null}, "y2": {"field": "yr"}}},
           {"data": {"name": "brk"}, "transform": [{"filter": "datum.m === 'Shannon'"}], "mark": {"type": "text", "dx": 10.5, "fontSize": 6, "fontWeight": "bold", "color": "#333", "baseline": "middle"},
            "encoding": {"x": {"datum": "B6", "type": "nominal", "axis": null}, "y": {"field": "ty", "type": "quantitative", "title": null}, "text": {"field": "lab"}}}
          ]
         },
         {
          "title": {"text": ["Phylogenetic", "Distance"], "fontSize": 9, "lineHeight": 10, "offset": -11, "frame": "group", "dx": 13},
          "width": 44, "height": 169,
          "layer": [
           {"data": {"name": "box"}, "transform": [{"filter": "datum.m === 'PD'"}], "mark": {"type": "rule", "color": "#555", "strokeWidth": 1.2},
            "encoding": {"x": {"field": "st", "type": "nominal", "scale": {"type": "point", "domain": ["B6","PWD"], "padding": 0.55}, "axis": null},
             "y": {"field": "lo", "type": "quantitative", "title": null, "scale": {"domain": [20, 60], "nice": false, "zero": false}, "axis": {"values": [20, 40, 60], "tickCount": 10, "title": null}}, "y2": {"field": "hi"}}},
           {"data": {"name": "box"}, "transform": [{"filter": "datum.m === 'PD'"}], "mark": {"type": "tick", "color": "#555", "thickness": 1.2, "size": 10, "opacity": 1},
            "encoding": {"x": {"field": "st", "type": "nominal", "axis": null}, "y": {"field": "hi", "type": "quantitative", "title": null}}},
           {"data": {"name": "box"}, "transform": [{"filter": "datum.m === 'PD'"}], "mark": {"type": "tick", "color": "#555", "thickness": 1.2, "size": 10, "opacity": 1},
            "encoding": {"x": {"field": "st", "type": "nominal", "axis": null}, "y": {"field": "lo", "type": "quantitative", "title": null}}},
           {"data": {"name": "box"}, "transform": [{"filter": "datum.m === 'PD'"}], "mark": {"type": "bar", "size": 17, "stroke": "#222", "strokeWidth": 1, "opacity": 1},
            "encoding": {"x": {"field": "st", "type": "nominal", "axis": null}, "y": {"field": "q1", "type": "quantitative", "title": null}, "y2": {"field": "q3"},
             "color": {"field": "st", "type": "nominal", "scale": {"domain": ["B6","PWD"], "range": ["#f6be17","#1c4e8d"]},
              "legend": {"orient": "none", "legendX": 62, "legendY": 11, "title": null, "symbolType": "circle", "symbolSize": 70, "symbolStrokeWidth": 0, "labelFontSize": 10, "labelFontWeight": "normal", "rowPadding": 1.5, "labelOffset": 4}}}},
           {"data": {"name": "pts"}, "transform": [{"filter": "datum.m === 'PD'"}], "mark": {"type": "circle", "size": 9, "color": "#8f8f8f", "opacity": 1},
            "encoding": {"x": {"field": "st", "type": "nominal", "axis": null}, "y": {"field": "v", "type": "quantitative", "title": null}}},
           {"data": {"name": "box"}, "transform": [{"filter": "datum.m === 'PD'"}], "mark": {"type": "tick", "color": "#000", "thickness": 3, "size": 17, "opacity": 1},
            "encoding": {"x": {"field": "st", "type": "nominal", "axis": null}, "y": {"field": "med", "type": "quantitative", "title": null}}},
           {"data": {"name": "brk"}, "transform": [{"filter": "datum.m === 'PD'"}], "mark": {"type": "rule", "color": "#333", "strokeWidth": 1.3},
            "encoding": {"x": {"datum": "B6", "type": "nominal", "axis": null}, "x2": {"datum": "PWD"}, "y": {"field": "top", "type": "quantitative", "title": null}}},
           {"data": {"name": "brk"}, "transform": [{"filter": "datum.m === 'PD'"}], "mark": {"type": "rule", "color": "#333", "strokeWidth": 1.3},
            "encoding": {"x": {"datum": "B6", "type": "nominal", "axis": null}, "y": {"field": "top", "type": "quantitative", "title": null}, "y2": {"field": "yl"}}},
           {"data": {"name": "brk"}, "transform": [{"filter": "datum.m === 'PD'"}], "mark": {"type": "rule", "color": "#333", "strokeWidth": 1.3},
            "encoding": {"x": {"datum": "PWD", "type": "nominal", "axis": null}, "y": {"field": "top", "type": "quantitative", "title": null}, "y2": {"field": "yr"}}},
           {"data": {"name": "brk"}, "transform": [{"filter": "datum.m === 'PD'"}], "mark": {"type": "text", "dx": 10.5, "fontSize": 6, "fontWeight": "bold", "color": "#333", "baseline": "middle"},
            "encoding": {"x": {"datum": "B6", "type": "nominal", "axis": null}, "y": {"field": "ty", "type": "quantitative", "title": null}, "text": {"field": "lab"}}}
          ]
         }
        ]
       }
      ]
     },
     {
      "title": {"text": "E", "anchor": "start", "frame": "bounds", "fontSize": 16, "fontWeight": "normal", "offset": 10},
      "hconcat": [
       {
        "width": 155, "height": 143,
        "layer": [
         {"data": {"name": "pc"},
          "mark": {"type": "point", "size": 70, "strokeWidth": 1.5, "opacity": 1},
          "encoding": {
           "x": {"field": "a1", "type": "quantitative", "scale": {"domain": [-0.4, 0.4], "nice": false}, "axis": {"values": [-0.4, -0.2, 0, 0.2, 0.4], "tickCount": 10, "format": ".1f", "title": "Axis 1 [51.6%]", "offset": 16}},
           "y": {"field": "a2", "type": "quantitative", "scale": {"domain": [-0.6, 0.6], "nice": false}, "axis": {"values": [-0.6, -0.4, -0.2, 0, 0.2, 0.4, 0.6], "tickCount": 10, "format": ".1f", "title": "Axis 2 [7.6%]", "offset": 24}},
           "shape": {"field": "grp", "type": "nominal", "scale": {"domain": ["B6 Fecal","B6 Cecal","PWD Fecal","PWD Cecal"], "range": ["triangle-up","circle","triangle-up","circle"]},
            "legend": {"orient": "none", "legendX": 113, "legendY": -11, "title": null, "symbolSize": 80, "labelFontSize": 8.5, "rowPadding": -2, "labelOffset": 3, "symbolStrokeWidth": 1.5}},
           "stroke": {"field": "grp", "type": "nominal", "scale": {"domain": ["B6 Fecal","B6 Cecal","PWD Fecal","PWD Cecal"], "range": ["#f6be17","#f6be17","#1c4e8d","#1c4e8d"]},
            "legend": {"orient": "none", "legendX": 113, "legendY": -11, "title": null, "symbolSize": 80, "labelFontSize": 8.5, "rowPadding": -2, "labelOffset": 3, "symbolStrokeWidth": 1.5}},
           "fill": {"field": "grp", "type": "nominal", "scale": {"domain": ["B6 Fecal","B6 Cecal","PWD Fecal","PWD Cecal"], "range": ["#f6be17","#ffffff","#1c4e8d","#ffffff"]},
            "legend": {"orient": "none", "legendX": 113, "legendY": -11, "title": null, "symbolSize": 80, "labelFontSize": 8.5, "rowPadding": -2, "labelOffset": 3, "symbolStrokeWidth": 1.5}}
          }},
         {"data": {"name": "lab"},
          "mark": {"type": "text", "fontSize": 9, "fontWeight": "bold", "color": "#333"},
          "encoding": {"x": {"field": "a1", "type": "quantitative"}, "y": {"field": "a2", "type": "quantitative"}, "text": {"field": "n"}}}
        ]
       }
      ]
     }
    ]
   }
  ]
 }
]
}
